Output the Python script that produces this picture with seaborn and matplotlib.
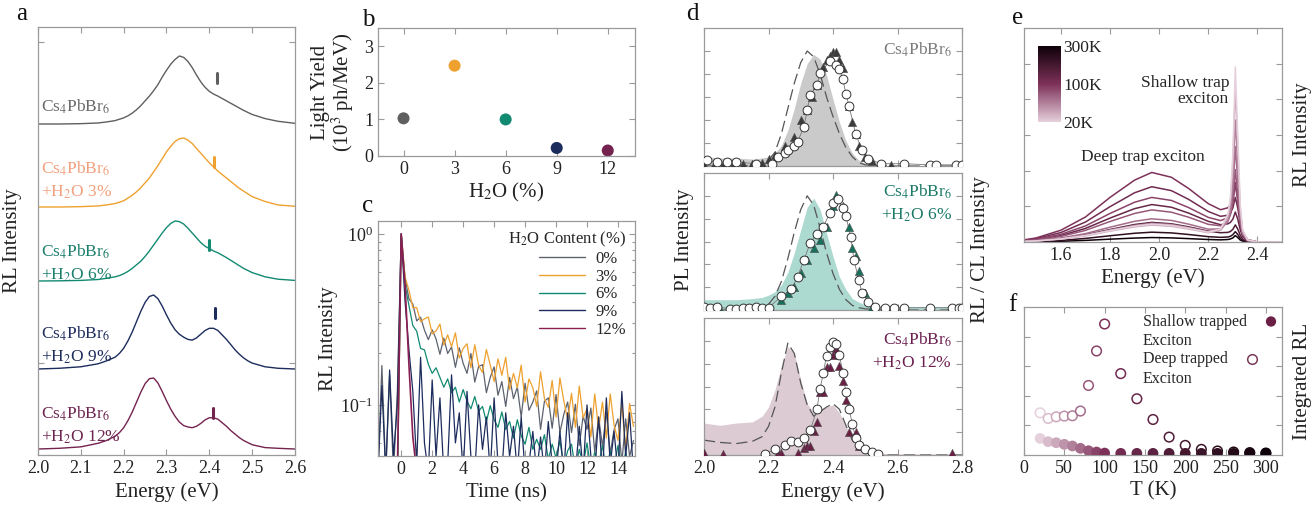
import matplotlib
matplotlib.use("Agg")
import matplotlib.pyplot as plt
from matplotlib import colors as mcolors
from matplotlib.cm import ScalarMappable
import numpy as np
import seaborn as sns

W, H = 1312, 508

# ---------------- panel a: stacked RL spectra ----------------
E_A = [2.00, 2.05, 2.10, 2.14, 2.16,
       2.18, 2.19, 2.20, 2.21, 2.22, 2.23, 2.24, 2.25, 2.26, 2.27, 2.28,
       2.29, 2.30, 2.31, 2.32, 2.33, 2.34, 2.35, 2.36, 2.37, 2.38, 2.39,
       2.40, 2.41, 2.42, 2.43, 2.44, 2.45, 2.46, 2.47, 2.48, 2.49, 2.50,
       2.53, 2.56, 2.60]
RL_0 = [0.0, 0.0, 0.005, 0.015, 0.03,
        0.05, 0.07, 0.09, 0.12, 0.16, 0.21, 0.27, 0.34, 0.41, 0.49, 0.58,
        0.69, 0.79, 0.88, 0.95, 1.00, 0.98, 0.92, 0.83, 0.72, 0.62, 0.54,
        0.48, 0.44, 0.41, 0.375, 0.34, 0.305, 0.27, 0.235, 0.20, 0.17, 0.14,
        0.08, 0.04, 0.01]
RL_3 = [0.0, 0.0, 0.005, 0.015, 0.03,
        0.05, 0.07, 0.09, 0.13, 0.17, 0.22, 0.28, 0.35, 0.42, 0.51, 0.60,
        0.70, 0.80, 0.88, 0.95, 0.99, 1.00, 0.97, 0.92, 0.85, 0.78, 0.71,
        0.64, 0.58, 0.52, 0.47, 0.42, 0.37, 0.32, 0.27, 0.23, 0.19, 0.15,
        0.08, 0.03, 0.01]
RL_6 = [0.0, 0.003, 0.01, 0.025, 0.045,
        0.07, 0.09, 0.12, 0.16, 0.21, 0.27, 0.33, 0.41, 0.50, 0.60, 0.70,
        0.80, 0.89, 0.96, 1.00, 0.99, 0.95, 0.88, 0.80, 0.72, 0.64, 0.58,
        0.54, 0.50, 0.47, 0.43, 0.39, 0.345, 0.30, 0.255, 0.21, 0.175, 0.14,
        0.07, 0.03, 0.01]
RL_9 = [0.0, 0.01, 0.03, 0.07, 0.11,
        0.16, 0.21, 0.28, 0.38, 0.50, 0.64, 0.78, 0.90, 0.98, 1.00, 0.95,
        0.85, 0.73, 0.62, 0.53, 0.47, 0.43, 0.40, 0.39, 0.42, 0.47, 0.52,
        0.55, 0.55, 0.52, 0.46, 0.40, 0.33, 0.26, 0.20, 0.15, 0.11, 0.08,
        0.03, 0.01, 0.0]
RL_12 = [0.0, 0.01, 0.03, 0.08, 0.12,
         0.18, 0.23, 0.30, 0.40, 0.52, 0.66, 0.80, 0.92, 0.99, 1.00, 0.93,
         0.81, 0.68, 0.56, 0.46, 0.38, 0.33, 0.31, 0.30, 0.32, 0.36, 0.41,
         0.44, 0.44, 0.42, 0.37, 0.32, 0.26, 0.21, 0.16, 0.12, 0.09, 0.06,
         0.02, 0.01, 0.0]
AMP_A = [0.68, 0.69, 0.60, 0.74, 0.71]
SHOULDER_E = [2.418, 2.410, 2.400, 2.413, 2.408]
LABELS_A = ["Cs$_4$PbBr$_6$", "Cs$_4$PbBr$_6$\n+H$_2$O 3%", "Cs$_4$PbBr$_6$\n+H$_2$O 6%",
            "Cs$_4$PbBr$_6$\n+H$_2$O 9%", "Cs$_4$PbBr$_6$\n+H$_2$O 12%"]

# ---------------- panel b: light yield ----------------
H2O = [0, 3, 6, 9, 12]
LIGHT_YIELD = [1.03, 2.47, 1.00, 0.22, 0.15]

# ---------------- panel c: RL decay (0.25 ns bins from -1.5 ns) ----------------
T_DECAY = np.round(np.arange(-1.5, 15.01, 0.25), 2)
DECAY_0 = [0.04, 0.17, 0.04, 0.15, 0.04, 0.12,
           1.00, 0.55, 0.417, 0.389, 0.310, 0.326, 0.274, 0.241,
           0.275, 0.243, 0.198, 0.246, 0.200, 0.218, 0.166, 0.216,
           0.175, 0.153, 0.200, 0.136, 0.168, 0.172, 0.118, 0.145,
           0.167, 0.114, 0.137, 0.098, 0.145, 0.109, 0.127, 0.085,
           0.134, 0.093, 0.104, 0.121, 0.072, 0.105, 0.110, 0.073,
           0.115, 0.069, 0.088, 0.104, 0.069, 0.101, 0.058, 0.086,
           0.072, 0.096, 0.053, 0.085, 0.057, 0.091, 0.052, 0.072,
           0.083, 0.046, 0.083, 0.050, 0.062]
DECAY_3 = [0.03, 0.03, 0.03, 0.03, 0.03, 0.03,
           1.00, 0.56, 0.468, 0.37, 0.371, 0.307, 0.319, 0.327,
           0.261, 0.271, 0.297, 0.224, 0.257, 0.219, 0.264, 0.188,
           0.214, 0.228, 0.165, 0.225, 0.170, 0.155, 0.211, 0.171,
           0.137, 0.186, 0.149, 0.190, 0.123, 0.153, 0.126, 0.171,
           0.104, 0.142, 0.126, 0.098, 0.156, 0.109, 0.097, 0.139,
           0.085, 0.144, 0.106, 0.082, 0.117, 0.074, 0.129, 0.084,
           0.095, 0.065, 0.116, 0.072, 0.104, 0.064, 0.116, 0.076,
           0.062, 0.101, 0.055, 0.102, 0.075]
DECAY_6 = [0.03, 0.03, 0.03, 0.03, 0.03, 0.03,
           1.00, 0.50, 0.381, 0.291, 0.270, 0.214, 0.210, 0.173,
           0.153, 0.165, 0.145, 0.127, 0.142, 0.118, 0.127, 0.104,
           0.123, 0.105, 0.095, 0.112, 0.092, 0.098, 0.080, 0.099,
           0.082, 0.074, 0.091, 0.072, 0.080, 0.064, 0.082, 0.066,
           0.059, 0.074, 0.055, 0.063, 0.055, 0.067, 0.048, 0.059,
           0.049, 0.062, 0.044, 0.054, 0.059, 0.042, 0.055, 0.045,
           0.060, 0.042, 0.053, 0.045, 0.058, 0.041, 0.054, 0.043,
           0.058, 0.042, 0.053, 0.041, 0.048]
DECAY_9 = [0.04, 0.13, 0.04, 0.16, 0.05, 0.10,
           1.00, 0.40, 0.21, 0.12, 0.045, 0.19, 0.06, 0.04,
           0.14, 0.05, 0.11, 0.04, 0.045, 0.15, 0.06, 0.09,
           0.04, 0.12, 0.05, 0.04, 0.10, 0.055, 0.085, 0.04,
           0.11, 0.045, 0.04, 0.09, 0.05, 0.075, 0.04, 0.085,
           0.04, 0.045, 0.07, 0.04, 0.065, 0.04, 0.08, 0.045,
           0.04, 0.07, 0.04, 0.09, 0.045, 0.04, 0.075, 0.04,
           0.10, 0.05, 0.04, 0.085, 0.04, 0.11, 0.045, 0.07,
           0.04, 0.12, 0.05, 0.09, 0.04]
T_12 = [-1.5, -0.25, 0.0, 0.25, 0.5, 0.75, 1.0, 1.25]
DECAY_12 = [0.04, 0.04, 1.00, 0.50, 0.17, 0.065, 0.04, 0.04]
DECAY_LABELS = ["0%", "3%", "6%", "9%", "12%"]

# ---------------- panel d: PL / RL / CL ----------------
E_D = [2.00, 2.05, 2.10, 2.15, 2.18, 2.20, 2.22, 2.24, 2.26, 2.28, 2.30, 2.32, 2.34,
       2.36, 2.38, 2.40, 2.42, 2.44, 2.46, 2.48, 2.50, 2.55, 2.60, 2.70, 2.80]
PL_FILL_0 = [0.08, 0.07, 0.07, 0.06, 0.07, 0.08, 0.11, 0.18, 0.31, 0.50, 0.72, 0.89, 0.97,
             0.93, 0.79, 0.58, 0.38, 0.22, 0.11, 0.05, 0.02, 0.005, 0.0, 0.0, 0.0]
PL_DASH_0 = [0.0, 0.0, 0.0, 0.005, 0.02, 0.05, 0.12, 0.28, 0.50, 0.72, 0.90, 1.00, 0.95,
             0.80, 0.60, 0.43, 0.28, 0.16, 0.08, 0.03, 0.01, 0.0, 0.0, 0.0, 0.0]
PL_FILL_6 = [0.09, 0.09, 0.09, 0.10, 0.11, 0.13, 0.16, 0.22, 0.33, 0.50, 0.70, 0.90, 0.98,
             0.88, 0.67, 0.47, 0.29, 0.18, 0.10, 0.07, 0.045, 0.03, 0.03, 0.03, 0.03]
PL_DASH_6 = [0.0, 0.0, 0.0, 0.005, 0.02, 0.05, 0.12, 0.25, 0.45, 0.68, 0.88, 1.00, 0.92,
             0.72, 0.50, 0.32, 0.18, 0.09, 0.04, 0.02, 0.01, 0.0, 0.0, 0.0, 0.0]
PL_FILL_12 = [0.28, 0.26, 0.28, 0.29, 0.34, 0.42, 0.57, 0.78, 0.95, 0.89, 0.66, 0.45, 0.37,
              0.40, 0.42, 0.44, 0.37, 0.25, 0.13, 0.06, 0.03, 0.015, 0.01, 0.01, 0.01]
PL_DASH_12 = [0.13, 0.11, 0.10, 0.12, 0.16, 0.25, 0.42, 0.72, 0.98, 0.89, 0.63, 0.44, 0.34,
              0.38, 0.42, 0.45, 0.40, 0.26, 0.13, 0.06, 0.02, 0.0, 0.0, 0.0, 0.0]

RL_E_0 = [2.00, 2.03, 2.06, 2.09, 2.12, 2.15, 2.18, 2.20, 2.22, 2.25, 2.28, 2.30, 2.32, 2.335,
          2.35, 2.37, 2.38, 2.39, 2.40, 2.41, 2.42, 2.43, 2.45, 2.46, 2.47, 2.48, 2.50, 2.52,
          2.55, 2.58]
RL_V_0 = [0.01, 0.01, 0.01, 0.01, 0.02, 0.02, 0.03, 0.06, 0.10, 0.17, 0.25, 0.40, 0.49, 0.60,
          0.70, 0.86, 0.92, 0.96, 0.99, 0.99, 0.92, 0.85, 0.52, 0.38, 0.28, 0.17, 0.08, 0.04,
          0.02, 0.01]
CL_E_0 = [2.01, 2.04, 2.07, 2.10, 2.16, 2.21, 2.23, 2.25, 2.26, 2.28, 2.29, 2.31, 2.32, 2.33,
          2.35, 2.36, 2.39, 2.41, 2.42, 2.43, 2.44, 2.45, 2.47, 2.49, 2.51, 2.55, 2.62, 2.70,
          2.72, 2.78, 2.80]
CL_V_0 = [0.05, 0.035, 0.035, 0.035, 0.02, 0.02, 0.08, 0.11, 0.14, 0.17, 0.21, 0.34, 0.49, 0.62,
          0.70, 0.81, 0.91, 0.88, 0.84, 0.76, 0.63, 0.52, 0.28, 0.14, 0.06, 0.02, 0.02, 0.01,
          0.01, 0.01, 0.01]
RL_E_6 = [2.05, 2.15, 2.20, 2.24, 2.26, 2.28, 2.30, 2.32, 2.34, 2.36, 2.38, 2.40, 2.41, 2.43,
          2.45, 2.46, 2.47, 2.48, 2.50, 2.52]
RL_V_6 = [0.01, 0.01, 0.02, 0.09, 0.15, 0.20, 0.32, 0.44, 0.54, 0.61, 0.73, 0.91, 1.01, 0.91,
          0.73, 0.54, 0.47, 0.34, 0.15, 0.03]
CL_E_6 = [2.00, 2.02, 2.04, 2.08, 2.10, 2.12, 2.14, 2.16, 2.18, 2.20, 2.24, 2.27, 2.29, 2.31,
          2.33, 2.35, 2.37, 2.39, 2.40, 2.415, 2.43, 2.44, 2.455, 2.465, 2.48, 2.49, 2.51, 2.53,
          2.56, 2.59, 2.62, 2.70, 2.77, 2.79, 2.80]
CL_V_6 = [0.03, 0.02, 0.03, 0.01, 0.01, 0.02, 0.02, 0.03, 0.02, 0.02, 0.12, 0.18, 0.29, 0.44,
          0.59, 0.67, 0.73, 0.85, 0.94, 0.97, 0.89, 0.82, 0.64, 0.44, 0.26, 0.15, 0.07, 0.03,
          0.02, 0.02, 0.02, 0.02, 0.02, 0.02, 0.02]
RL_E_12 = [2.00, 2.06, 2.23, 2.24, 2.29, 2.31, 2.32, 2.33, 2.34, 2.35, 2.36, 2.37, 2.38, 2.39,
           2.40, 2.41, 2.42, 2.43, 2.44, 2.45, 2.47, 2.48, 2.49, 2.77]
RL_V_12 = [0.02, 0.01, 0.02, 0.02, 0.02, 0.06, 0.08, 0.08, 0.21, 0.29, 0.55, 0.55, 0.77, 0.77,
           0.88, 0.93, 0.78, 0.65, 0.48, 0.20, 0.20, 0.08, 0.08, 0.02]
CL_E_12 = [2.19, 2.22, 2.25, 2.27, 2.29, 2.31, 2.33, 2.35, 2.36, 2.37, 2.38, 2.39, 2.40, 2.41,
           2.42, 2.43, 2.44, 2.45, 2.46, 2.47, 2.48, 2.50, 2.52, 2.54]
CL_V_12 = [0.01, 0.05, 0.09, 0.12, 0.11, 0.15, 0.22, 0.40, 0.58, 0.72, 0.87, 0.95, 0.99, 0.97,
           0.88, 0.72, 0.55, 0.40, 0.27, 0.15, 0.09, 0.05, 0.03, 0.01]

# ---------------- panel e: temperature-dependent RL ----------------
E_E = [1.45, 1.50, 1.60, 1.70, 1.80, 1.90, 1.97, 2.05, 2.12, 2.20, 2.25, 2.28, 2.29, 2.30,
       2.31, 2.32, 2.33, 2.34, 2.36, 2.40, 2.50]
T_E = [300, 240, 180, 140, 120, 100, 90, 80, 70, 60, 40, 20]
RL_300K = [0.001, 0.002, 0.004, 0.009, 0.016, 0.022, 0.025, 0.023, 0.019, 0.014, 0.012, 0.014,
           0.017, 0.023, 0.036, 0.025, 0.011, 0.005, 0.001, 0.0, 0.0]
RL_240K = [0.002, 0.003, 0.009, 0.020, 0.035, 0.049, 0.055, 0.051, 0.042, 0.030, 0.026, 0.028,
           0.032, 0.041, 0.058, 0.042, 0.021, 0.009, 0.002, 0.0, 0.0]
RL_180K = [0.003, 0.007, 0.019, 0.040, 0.070, 0.098, 0.110, 0.102, 0.085, 0.061, 0.052, 0.054,
           0.059, 0.071, 0.096, 0.072, 0.038, 0.016, 0.003, 0.0, 0.0]
RL_140K = [0.006, 0.013, 0.036, 0.076, 0.134, 0.187, 0.210, 0.195, 0.162, 0.116, 0.097, 0.102,
           0.110, 0.128, 0.168, 0.128, 0.069, 0.030, 0.007, 0.0, 0.0]
RL_120K = [0.009, 0.019, 0.053, 0.112, 0.198, 0.276, 0.310, 0.288, 0.239, 0.171, 0.144, 0.150,
           0.162, 0.191, 0.250, 0.190, 0.102, 0.044, 0.010, 0.0, 0.0]
RL_100K = [0.012, 0.023, 0.066, 0.140, 0.250, 0.347, 0.390, 0.363, 0.300, 0.215, 0.181, 0.192,
           0.209, 0.250, 0.334, 0.250, 0.132, 0.057, 0.014, 0.0, 0.0]
RL_90K = [0.008, 0.015, 0.043, 0.090, 0.160, 0.223, 0.250, 0.233, 0.193, 0.138, 0.120, 0.136,
          0.158, 0.214, 0.325, 0.227, 0.107, 0.043, 0.010, 0.0, 0.0]
RL_80K = [0.005, 0.011, 0.031, 0.065, 0.115, 0.160, 0.180, 0.167, 0.139, 0.099, 0.091, 0.119,
          0.152, 0.235, 0.406, 0.266, 0.111, 0.042, 0.008, 0.0, 0.0]
RL_70K = [0.004, 0.008, 0.022, 0.047, 0.083, 0.116, 0.130, 0.121, 0.100, 0.072, 0.073, 0.115,
          0.163, 0.286, 0.535, 0.337, 0.129, 0.045, 0.009, 0.0, 0.0]
RL_60K = [0.003, 0.006, 0.018, 0.038, 0.067, 0.093, 0.105, 0.098, 0.081, 0.058, 0.066, 0.123,
          0.187, 0.352, 0.684, 0.424, 0.154, 0.051, 0.009, 0.0, 0.0]
RL_40K = [0.003, 0.006, 0.016, 0.034, 0.061, 0.085, 0.095, 0.088, 0.073, 0.052, 0.068, 0.142,
          0.225, 0.439, 0.870, 0.534, 0.190, 0.061, 0.011, 0.0, 0.0]
RL_20K = [0.003, 0.006, 0.017, 0.036, 0.064, 0.089, 0.100, 0.093, 0.077, 0.055, 0.073, 0.157,
          0.251, 0.494, 0.982, 0.602, 0.213, 0.068, 0.012, 0.0, 0.0]
RL_E_CURVES = [RL_300K, RL_240K, RL_180K, RL_140K, RL_120K, RL_100K, RL_90K, RL_80K,
               RL_70K, RL_60K, RL_40K, RL_20K]

# ---------------- panel f: integrated RL ----------------
T_F = [20, 30, 40, 50, 60, 70, 80, 90, 100, 120, 140, 160, 180, 200, 220, 240, 260, 280, 300]
DEEP_F = [0.285, 0.247, 0.258, 0.263, 0.265, 0.297, 0.47, 0.703, 0.885, 0.55, 0.38, 0.24,
          0.121, 0.065, 0.038, 0.027, 0.02, 0.016, 0.013]
SHALLOW_F = [0.112, 0.09, 0.083, 0.072, 0.061, 0.045, 0.029, 0.02, 0.013, 0.011, 0.011, 0.011,
             0.011, 0.011, 0.011, 0.011, 0.011, 0.011, 0.011]

# ---------------- styling ----------------
COLORS = ["#5f5f5f", "#eea12f", "#128a72", "#1c2c5c", "#74234f"]
LABEL_COLORS_A = ["#6a6a6a", "#f2a07e", "#1b7f6c", "#1f2d5c", "#6d2550"]
DECAY_COLORS = ["#5d626e", "#eea12f", "#128a72", "#1c2c5c", "#8a1f52"]
SPINE = "#9a9a9a"
TXT = "#222222"


def box(l, t, r, b):
    return [l / W, 1 - b / H, (r - l) / W, (b - t) / H]


def style(ax, labelsize=13):
    for s in ax.spines.values():
        s.set_color(SPINE)
        s.set_linewidth(0.9)
    ax.tick_params(which="both", direction="in", top=True, right=True, color=SPINE,
                   labelcolor=TXT, labelsize=labelsize, width=0.8)
    ax.tick_params(which="major", length=4.5)
    ax.tick_params(which="minor", length=2.5)


sns.set_theme(style="ticks")
plt.rcParams["font.family"] = ["Liberation Serif", "DejaVu Serif"]
plt.rcParams["mathtext.fontset"] = "stix"
plt.rcParams["axes.labelcolor"] = TXT

fig = plt.figure(figsize=(W / 100, H / 100), dpi=100)

# ---- a ----
ax = fig.add_axes(box(38, 27, 295, 455))
offsets = [3.31, 2.48, 1.74, 0.86, 0.06]
mark_lo = [0.41, 0.40, 0.31, 0.51, 0.31]
label_y = [3.48, 2.745, 1.915, 1.095, 0.30]
for i, spec in enumerate([RL_0, RL_3, RL_6, RL_9, RL_12]):
    y = np.array(spec) * AMP_A[i] + offsets[i]
    sns.lineplot(x=E_A, y=y, color=COLORS[i], lw=1.0, ax=ax)
    ax.plot([SHOULDER_E[i]] * 2, [offsets[i] + mark_lo[i], offsets[i] + mark_lo[i] + 0.10],
            color=COLORS[i], lw=2.2)
    ax.text(2.008, label_y[i], LABELS_A[i], color=LABEL_COLORS_A[i], fontsize=12.5,
            va="center", ha="left", linespacing=1.45)
ax.set_xlim(2.0, 2.6)
ax.set_ylim(0, 4.28)
ax.set_xticks([2.0, 2.1, 2.2, 2.3, 2.4, 2.5, 2.6])
ax.set_xticklabels(["2.0", "2.1", "2.2", "2.3", "2.4", "2.5", "2.6"])
ax.set_yticks([0.92, 4.13])
ax.set_yticklabels([])
ax.set_xlabel("Energy (eV)", fontsize=15, labelpad=4)
ax.set_ylabel("RL Intensity", fontsize=15, labelpad=8)
style(ax)

# ---- b ----
ax = fig.add_axes(box(378, 28, 635, 156))
sns.scatterplot(x=H2O, y=LIGHT_YIELD, hue=DECAY_LABELS, palette=COLORS, s=75,
                edgecolor="none", legend=False, ax=ax)
ax.set_xlim(-1.5, 13.6)
ax.set_ylim(0, 3.5)
ax.set_xticks(H2O)
ax.set_yticks([0, 1, 2, 3])
ax.set_xlabel("H$_2$O (%)", fontsize=15, labelpad=2)
ax.set_ylabel("Light Yield\n(10$^3$ ph/MeV)", fontsize=15, linespacing=0.95, labelpad=6)
style(ax)

# ---- c ----
ax = fig.add_axes(box(378, 221, 635, 456))
for vals, col, lab in zip([DECAY_0, DECAY_3, DECAY_6, DECAY_9], DECAY_COLORS, DECAY_LABELS):
    sns.lineplot(x=T_DECAY, y=vals, color=col, lw=0.9, label=lab, ax=ax)
sns.lineplot(x=T_12, y=DECAY_12, color=DECAY_COLORS[4], lw=1.2, label=DECAY_LABELS[4], ax=ax)
ax.set_yscale("log")
ax.set_xlim(-1.5, 15.1)
ax.set_ylim(0.0503, 1.19)
ax.set_xticks([0, 2, 4, 6, 8, 10, 12, 14])
ax.set_xlabel("Time (ns)", fontsize=15, labelpad=4)
ax.set_ylabel("RL Intensity", fontsize=15, labelpad=2)
style(ax)
leg = ax.legend(loc="upper right", frameon=False, title="H$_2$O Content (%)", fontsize=12,
                title_fontsize=12, handlelength=2.8, labelspacing=0.1, borderaxespad=0.15,
                handletextpad=0.6)
leg._legend_box.align = "right"
for ln in leg.get_lines():
    ln.set_linewidth(1.0)

# ---- d ----
d_rows = [(28, 166), (173, 310), (318, 455)]
d_fill = [PL_FILL_0, PL_FILL_6, PL_FILL_12]
d_dash = [PL_DASH_0, PL_DASH_6, PL_DASH_12]
d_rl = [(RL_E_0, RL_V_0), (RL_E_6, RL_V_6), (RL_E_12, RL_V_12)]
d_cl = [(CL_E_0, CL_V_0), (CL_E_6, CL_V_6), (CL_E_12, CL_V_12)]
d_fillc = ["#cacaca", "#acd9d0", "#dccbd3"]
d_tri = ["#3c3c3c", "#17705c", "#6a1f45"]
d_txtc = ["#7a7a7a", "#1b7a68", "#6b2050"]
d_txt = ["Cs$_4$PbBr$_6$", "Cs$_4$PbBr$_6$\n+H$_2$O 6%", "Cs$_4$PbBr$_6$\n+H$_2$O 12%"]
d_txty = [0.84, 0.777, 0.755]
for k, (t, b) in enumerate(d_rows):
    ax = fig.add_axes(box(704, t, 962, b))
    ax.fill_between(E_D, 0, d_fill[k], color=d_fillc[k], lw=0)
    sns.lineplot(x=E_D, y=d_dash[k], color="#555555", lw=0.9, ax=ax,
                 linestyle=(0, (9, 4)))
    ce, cv = d_cl[k]
    re, rv = d_rl[k]
    ax.plot(ce, cv, color="#777777", lw=0.6)
    sns.scatterplot(x=re, y=rv, marker="^", s=36, color=d_tri[k], edgecolor="#555555",
                    linewidth=0.4, ax=ax, zorder=3)
    sns.scatterplot(x=ce, y=cv, marker="o", s=40, color="white", edgecolor="#333333",
                    linewidth=0.7, ax=ax, zorder=4)
    ax.text(0.961, d_txty[k], d_txt[k], transform=ax.transAxes, ha="right", va="center",
            color=d_txtc[k], fontsize=12.5, linespacing=1.4, multialignment="right")
    ax.set_xlim(2.0, 2.8)
    ax.set_ylim(0, 1.2)
    ax.set_xticks([2.0, 2.2, 2.4, 2.6, 2.8])
    ax.set_yticks([0.2, 0.4, 0.6, 0.8, 1.0])
    ax.set_yticklabels([])
    if k < 2:
        ax.set_xticklabels([])
    else:
        ax.set_xticklabels(["2.0", "2.2", "2.4", "2.6", "2.8"])
        ax.set_xlabel("Energy (eV)", fontsize=15, labelpad=4)
    style(ax)
fig.text(685 / W, 1 - 240 / H, "PL Intensity", rotation=90, ha="center", va="center",
         fontsize=15, color=TXT)
fig.text(980 / W, 1 - 250 / H, "RL / CL Intensity", rotation=90, ha="center", va="center",
         fontsize=15, color=TXT)

# ---- e ----
cmap = mcolors.LinearSegmentedColormap.from_list("temp", ["#e6d0dc", "#7d3159", "#0e0008"])
norm = mcolors.TwoSlopeNorm(vmin=20, vcenter=100, vmax=300)
ax = fig.add_axes(box(1024, 28, 1282, 242))
for temp, spec in zip(T_E, RL_E_CURVES):
    sns.lineplot(x=E_E, y=spec, color=cmap(norm(temp)), lw=1.1, ax=ax)
ax.set_xlim(1.45, 2.5)
ax.set_ylim(0, 1.2)
ax.set_xticks([1.6, 1.8, 2.0, 2.2, 2.4])
ax.set_yticks([0.2, 0.4, 0.6, 0.8, 1.0])
ax.set_yticklabels([])
ax.set_xlabel("Energy (eV)", fontsize=15, labelpad=3)
ax.yaxis.set_label_position("right")
ax.set_ylabel("RL Intensity", fontsize=15, labelpad=8)
ax.text(0.795, 0.706, "Shallow trap\nexciton", transform=ax.transAxes, ha="right",
        va="center", fontsize=12.5, linespacing=1.05, multialignment="right")
ax.text(0.461, 0.397, "Deep trap exciton", transform=ax.transAxes, ha="center",
        va="center", fontsize=12.5)
style(ax)
cax = ax.inset_axes([0.054, 0.56, 0.089, 0.356])
cb = fig.colorbar(ScalarMappable(norm=norm, cmap=cmap), cax=cax)
cb.set_ticks([20, 100, 300], labels=["20K", "100K", "300K"])
cb.outline.set_visible(False)
cax.tick_params(length=0, labelsize=12.5, pad=2, labelcolor=TXT)
cax.minorticks_off()

# ---- f ----
ax = fig.add_axes(box(1024, 307, 1282, 455))
ax.scatter(T_F, DEEP_F, s=48, facecolors="white", edgecolors=cmap(norm(np.array(T_F))),
           linewidths=1.1, zorder=3)
sns.scatterplot(x=T_F, y=SHALLOW_F, hue=T_F, palette=cmap, hue_norm=norm, s=60,
                edgecolor="none", legend=False, ax=ax, zorder=4)
ax.set_xlim(0, 320)
ax.set_ylim(0, 1.0)
ax.set_xticks([0, 50, 100, 150, 200, 250, 300])
ax.set_yticks([0.2, 0.4, 0.6, 0.8])
ax.set_yticklabels([])
ax.set_xlabel("T (K)", fontsize=15, labelpad=3)
ax.yaxis.set_label_position("right")
ax.set_ylabel("Integrated RL", fontsize=15, labelpad=8)
style(ax)
h_shallow = ax.scatter([], [], s=55, c="#6b1f45", edgecolors="none")
h_deep = ax.scatter([], [], s=48, facecolors="white", edgecolors="#7a3a5a", linewidths=1.1)
leg = ax.legend([h_shallow, h_deep], ["Shallow trapped\nExciton", "Deep trapped\nExciton"],
                loc="upper left", bbox_to_anchor=(0.449, 0.975), frameon=False,
                markerfirst=False, fontsize=11.5, labelspacing=0.12, borderaxespad=0.0,
                borderpad=0.2, handletextpad=1.0, handlelength=1.0, scatterpoints=1,
                scatteryoffsets=[1.45])
for txt in leg.get_texts():
    txt.set_linespacing(1.3)
for col in leg._legend_handle_box.get_children():
    col.align = "left"

# ---- panel letters ----
for letter, (x, y) in zip("abcdef", [(22, 14), (368, 20), (368, 206), (692, 14),
                                     (1018, 18), (1012, 305)]):
    fig.text(x / W, 1 - y / H, letter, fontsize=18, ha="center", va="center", color="#111111")

fig.savefig("out.png", dpi=100)
